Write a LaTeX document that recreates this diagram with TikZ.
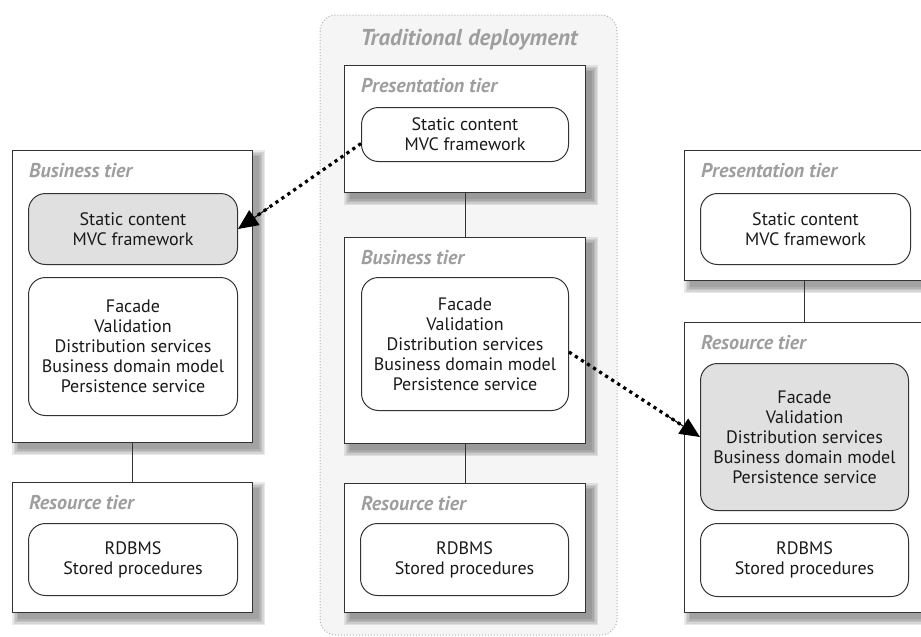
\documentclass[tikz,border=0pt]{standalone}
\usepackage{fontspec}
\setmainfont{PT Sans}
\usetikzlibrary{arrows.meta}
\pgfdeclarelayer{back}
\pgfdeclarelayer{shadowlayer}
\pgfsetlayers{back,shadowlayer,main}
\newcommand\mytxt{\fontsize{18}{20}\selectfont}
\newcommand\mylbl{\fontsize{20}{22}\selectfont\bfseries\itshape}
\newcommand\myttl{\fontsize{23}{26}\selectfont\bfseries\itshape}
\tikzset{
 tier/.style={draw=black!80, line width=1.1pt, fill=white, rectangle, anchor=north west, inner sep=0pt},
 unit/.style={draw=black!80, line width=1pt, fill=white, rounded corners=17pt, anchor=north west, inner sep=0pt, align=center, text=black!90, font=\mytxt},
 hl/.style={fill=black!12},
 tlabel/.style={anchor=west, text=black!38, font=\mylbl, inner sep=0pt},
 link/.style={draw=black!80, line width=1pt},
 dotline/.style={line width=3.2pt, dash pattern=on 3.2pt off 4pt, shorten >=16pt},
 tipline/.style={line width=1pt, solid, -{Triangle[length=20pt,width=18pt]}},
}
\begin{document}
\begin{tikzpicture}[x=1pt,y=-1pt]
\useasboundingbox (0,0) rectangle (921,637);
\clip (0,0) rectangle (921,637);
% traditional deployment background
\begin{pgfonlayer}{back}
\draw[black!30, dotted, line width=1pt, fill=black!4, rounded corners=16pt] (320,15) rectangle (617,635);
\end{pgfonlayer}
\node[text=black!38, font=\myttl, inner sep=0pt] (title) at (469,40) {Traditional deployment};

% center column
\node[tier, minimum width=241pt, minimum height=127pt] (cP) at (344,65) {};
\node[tlabel] (cPl) at (361,86) {Presentation tier};
\node[unit, minimum width=207pt, minimum height=54pt] (cPi) at (361,107) {Static content\\MVC framework};
\node[tier, minimum width=241pt, minimum height=206pt] (cB) at (344,237) {};
\node[tlabel] (cBl) at (361,258) {Business tier};
\node[unit, minimum width=207pt, minimum height=133pt] (cBi) at (361,277) {Facade\\Validation\\Distribution services\\Business domain model\\Persistence service};
\node[tier, minimum width=241pt, minimum height=129pt] (cR) at (344,483) {};
\node[tlabel] (cRl) at (361,504) {Resource tier};
\node[unit, minimum width=208pt, minimum height=72pt] (cRi) at (360,523) {RDBMS\\Stored procedures};
\draw[link] (cP.south) -- (cB.north);
\draw[link] (cB.south) -- (cR.north);

% left column
\node[tier, minimum width=240pt, minimum height=292pt] (lB) at (12,150) {};
\node[tlabel] (lBl) at (29,171) {Business tier};
\node[unit, hl, minimum width=209pt, minimum height=71pt] (lBi1) at (28,193) {Static content\\MVC framework};
\node[unit, minimum width=209pt, minimum height=138pt] (lBi2) at (28,277) {Facade\\Validation\\Distribution services\\Business domain model\\Persistence service};
\node[tier, minimum width=240pt, minimum height=130pt] (lR) at (12,482) {};
\node[tlabel] (lRl) at (29,503) {Resource tier};
\node[unit, minimum width=209pt, minimum height=72pt] (lRi) at (28,523) {RDBMS\\Stored procedures};
\draw[link] (lB.south) -- (lR.north);

% right column
\node[tier, minimum width=240pt, minimum height=130pt] (rP) at (684,150) {};
\node[tlabel] (rPl) at (701,171) {Presentation tier};
\node[unit, minimum width=210pt, minimum height=71pt] (rPi) at (700,193) {Static content\\MVC framework};
\node[tier, minimum width=240pt, minimum height=290pt] (rR) at (684,322) {};
\node[tlabel] (rRl) at (701,343) {Resource tier};
\node[unit, hl, minimum width=208pt, minimum height=147pt] (rRi1) at (700,363) {Facade\\Validation\\Distribution services\\Business domain model\\Persistence service};
\node[unit, minimum width=208pt, minimum height=73pt] (rRi2) at (700,523) {RDBMS\\Stored procedures};
\draw[link] (rP.south) -- (rR.north);

% shadows
\begin{pgfonlayer}{shadowlayer}
\foreach \n in {cP,cB,cR,lB,lR,rP,rR} {
  \foreach \r in {0,1.5,3,4.5,6} {
    \fill[black, opacity=0.085] ([xshift=6-\r, yshift=\r-6]\n.north west) rectangle ([xshift=6+\r, yshift=-6-\r]\n.south east);
  }
}
\end{pgfonlayer}

% arrows
\coordinate (a1s) at ([yshift=-9pt]cPi.west);
\coordinate (a2s) at ([yshift=-8pt]cBi.east);
\path (a1s) -- (lBi1.east) coordinate[pos=0.75] (a1m);
\path (a2s) -- (rRi1.west) coordinate[pos=0.75] (a2m);
\draw[dotline] (a1s) -- (lBi1.east);
\draw[tipline] (a1m) -- (lBi1.east);
\draw[dotline] (a2s) -- (rRi1.west);
\draw[tipline] (a2m) -- (rRi1.west);
\end{tikzpicture}
\end{document}
